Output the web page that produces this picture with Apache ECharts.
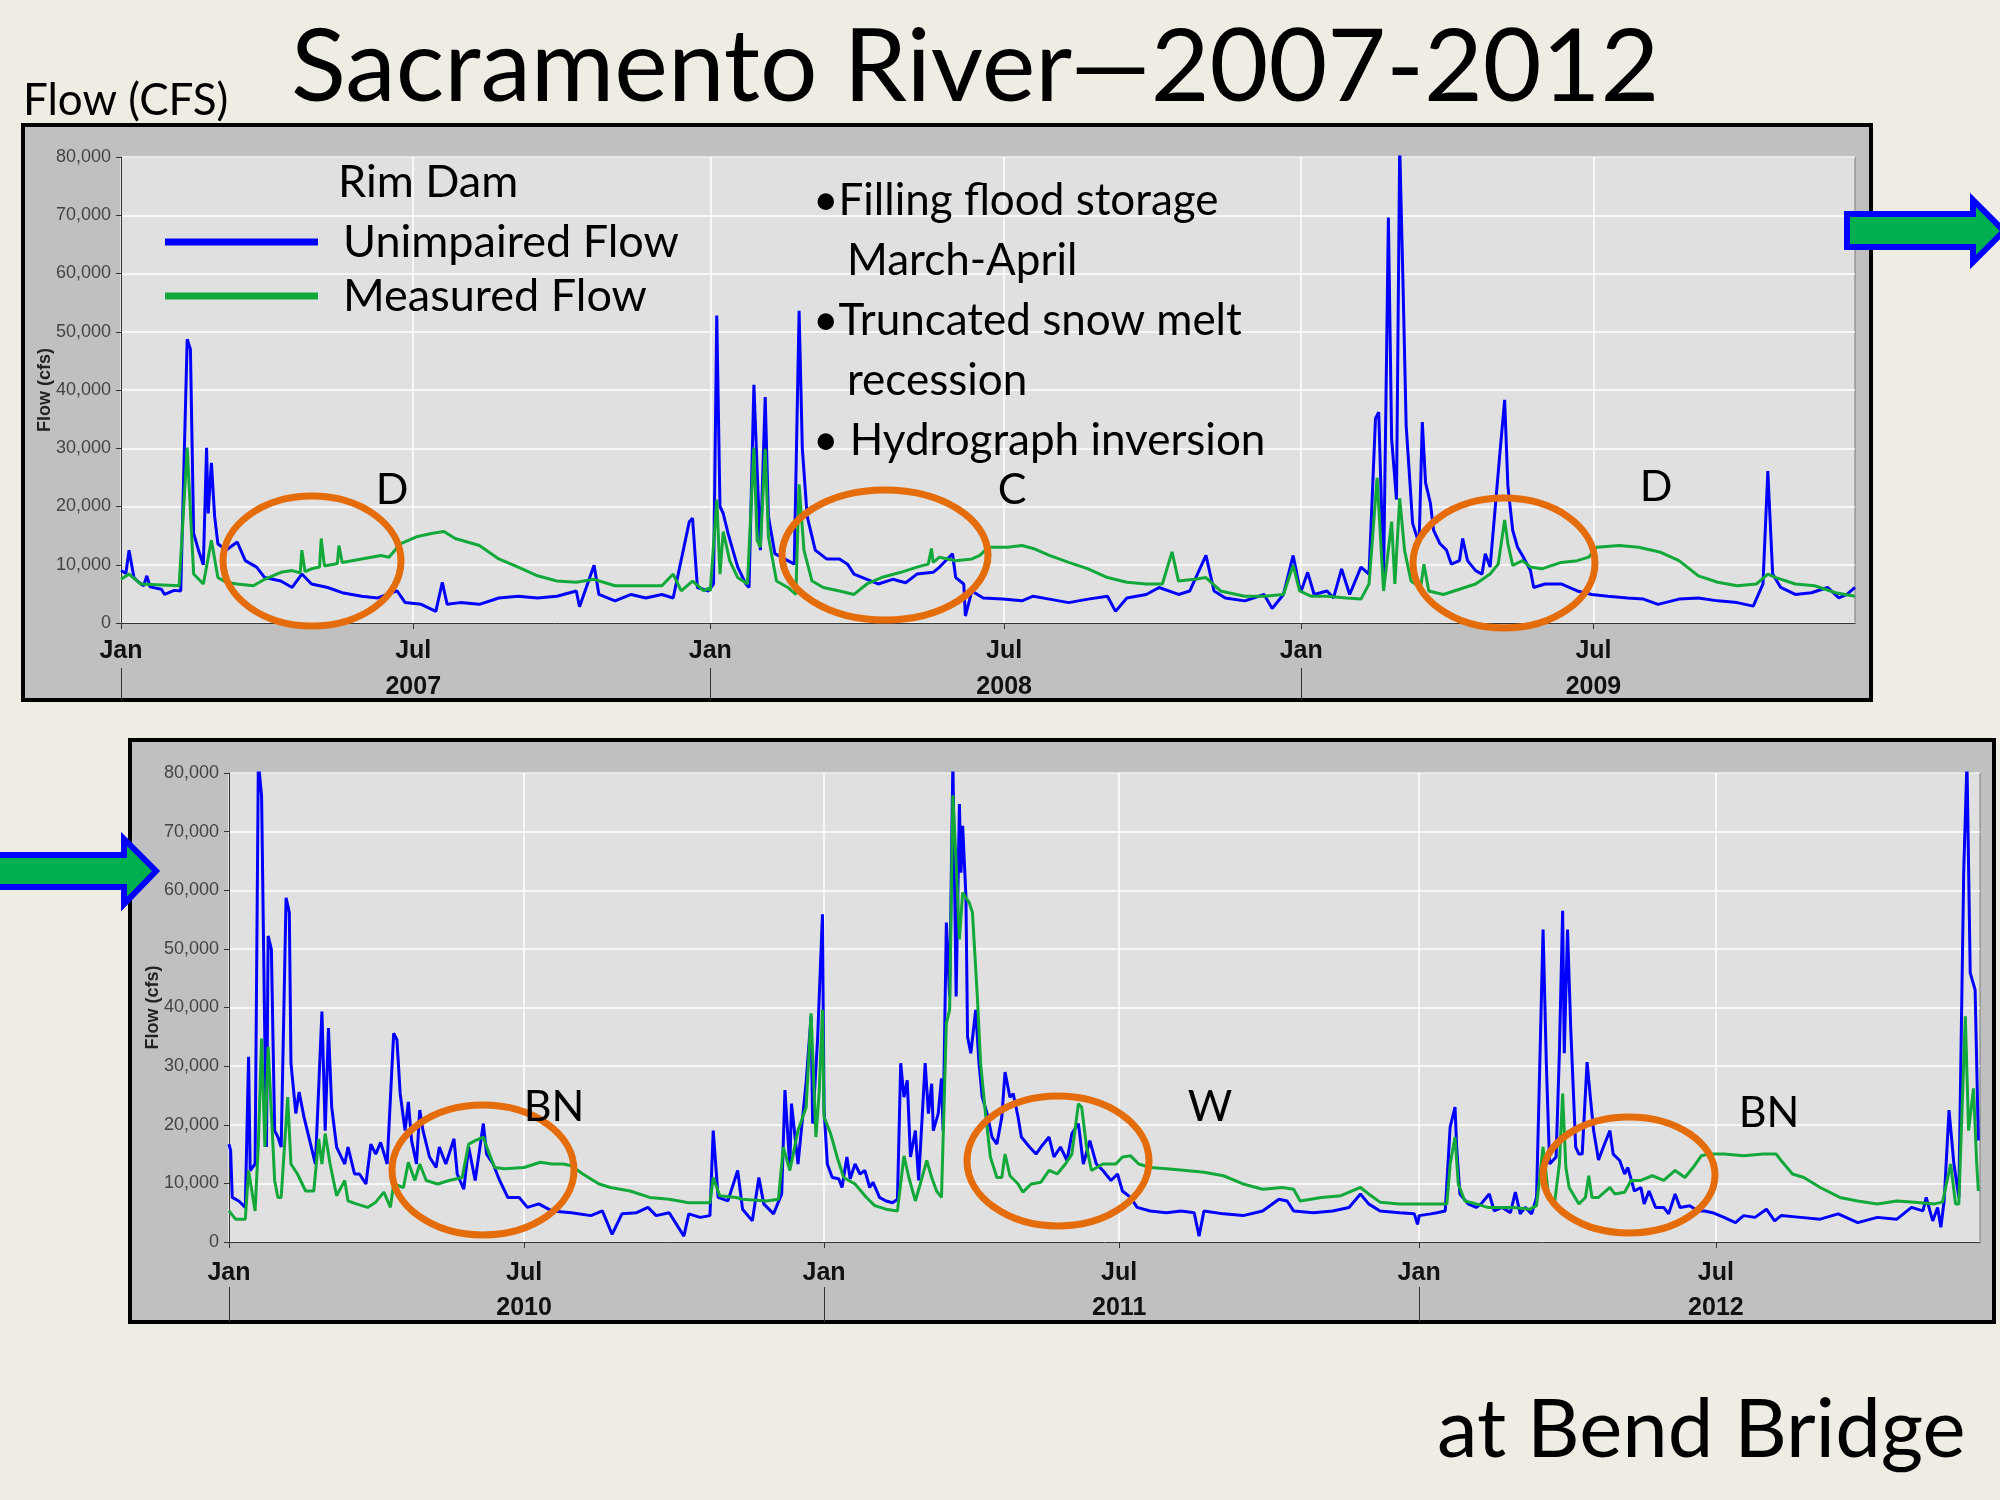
<!DOCTYPE html>
<html lang="en">
<head>
<meta charset="UTF-8">
<title>Sacramento River 2007-2012</title>
<script src="https://cdn.jsdelivr.net/npm/echarts@6/dist/echarts.min.js"></script>
<style>
    html, body { margin: 0; padding: 0; background: #efede3; }
    #main { width: 2000px; height: 1500px; }
</style>
</head>
<body>
<div id="main"></div>
<script type="text/javascript">
    var seriesNames = ['Unimpaired Flow', 'Measured Flow'];
    var topYears = [2007, 2008, 2009];
    var bottomYears = [2010, 2011, 2012];

    // [day of year, flow cfs]
    var unimpaired2007 = [[0,9000],[3,8500],[5,12500],[8,7800],[11,7000],[14,6400],[16,8100],[18,6200],[25,5800],[27,4900],[33,5600],[37,5500],[41,48700],[43,47000],[45,15400],[48,12500],[51,10000],[53,30100],[54,18800],[56,27500],[58,18300],[60,13600],[65,12500],[72,13900],[77,10700],[84,9600],[89,7800],[99,7200],[106,6100],[112,8400],[118,6700],[128,6100],[137,5200],[149,4600],[159,4300],[171,5500],[176,3500],[186,3200],[195,2000],[199,7000],[202,3200],[210,3500],[222,3200],[234,4300],[246,4600],[258,4300],[270,4600],[282,5500],[284,2800],[293,9900],[296,4900],[306,3800],[316,4900],[325,4300],[335,4900],[342,4300],[352,17400],[354,18000],[357,6100],[364,5500]];
    var measured2007 = [[0,7500],[5,8400],[12,6700],[36,6400],[41,30100],[45,8400],[51,6700],[56,14200],[60,7800],[65,7000],[72,6700],[82,6400],[89,7500],[99,8700],[106,9000],[111,8600],[112,12500],[114,8800],[118,9300],[123,9600],[124,14500],[126,9800],[134,10200],[135,13300],[137,10400],[149,11000],[161,11600],[166,11300],[173,13600],[183,14800],[193,15400],[200,15700],[207,14500],[222,13300],[234,11000],[246,9600],[258,8100],[270,7200],[282,7000],[293,7500],[306,6400],[335,6400],[342,8400],[347,5500],[354,7200],[361,5500],[364,6000]];
    var unimpaired2008 = [[0,5500],[2,6700],[4,52800],[6,20000],[8,18800],[11,15400],[17,9600],[22,6700],[24,6100],[27,40900],[29,26400],[31,12500],[34,38800],[36,18300],[40,11900],[44,11300],[48,10700],[52,10100],[55,53600],[57,29900],[60,18300],[65,12500],[72,11000],[80,11000],[85,10100],[89,8400],[97,7500],[104,6700],[113,7500],[121,6900],[128,8400],[138,8700],[142,9600],[150,11900],[152,7800],[157,6700],[158,1200],[162,5500],[169,4300],[181,4100],[193,3800],[200,4600],[210,4100],[222,3500],[234,4100],[246,4600],[251,2000],[258,4300],[270,4900],[278,6100],[290,4900],[297,5500],[307,11600],[312,5500],[319,4300],[331,3800],[343,4900],[348,2500],[355,4900],[361,11600],[365,6100]];
    var measured2008 = [[0,5500],[4,21200],[6,8400],[8,15700],[12,10700],[17,7800],[23,6700],[27,30100],[29,14200],[31,13000],[34,29900],[36,14800],[41,7200],[48,6100],[53,4900],[55,23800],[58,12500],[63,7200],[70,6100],[80,5500],[89,4900],[97,6700],[106,7800],[118,8700],[128,9600],[135,10100],[137,12800],[138,10400],[142,11300],[152,10700],[162,11000],[167,11600],[172,13000],[184,13000],[193,13300],[200,12800],[210,11600],[222,10400],[234,9300],[246,7800],[258,7000],[270,6700],[280,6700],[286,12200],[290,7200],[300,7500],[307,7800],[316,5500],[331,4600],[343,4600],[355,4900],[361,9900],[365,5500]];
    var unimpaired2009 = [[0,5500],[4,8700],[8,4900],[16,5500],[20,4300],[25,9300],[30,4900],[37,9600],[42,8400],[46,35100],[48,36200],[51,7800],[54,69600],[56,31600],[59,21200],[61,82000],[63,58800],[65,33900],[69,17100],[73,13600],[75,34500],[77,24100],[80,20600],[82,15900],[86,13600],[90,12500],[93,10100],[98,10700],[100,14500],[103,10700],[108,9000],[112,8400],[114,11900],[117,9600],[123,29000],[126,38300],[128,23500],[131,15900],[134,13000],[137,11600],[142,9000],[144,6100],[151,6700],[161,6700],[171,5500],[180,4900],[190,4600],[202,4300],[212,4100],[221,3200],[234,4100],[246,4300],[258,3800],[270,3500],[280,2900],[286,6700],[289,26100],[292,8400],[297,6100],[306,4900],[316,5200],[326,6100],[333,4300],[338,4900],[343,6100]];
    var measured2009 = [[0,5200],[6,4600],[16,4600],[28,4300],[37,4100],[42,6700],[47,24900],[51,5500],[56,17400],[58,6700],[61,21400],[64,12500],[68,7200],[74,6100],[76,10100],[79,5500],[88,4900],[98,5800],[108,6700],[117,8400],[122,10100],[126,17700],[128,13600],[131,9900],[137,10700],[142,9600],[149,9300],[161,10400],[171,10700],[178,11300],[183,13000],[197,13300],[209,13000],[222,12200],[234,10700],[246,8100],[258,7000],[270,6400],[282,6700],[289,8400],[294,7800],[306,6700],[318,6400],[331,5200],[343,4600]];
    var unimpaired2010 = [[0,16700],[1,15600],[2,7600],[6,7000],[10,5900],[12,31600],[13,12200],[16,13300],[18,82000],[20,76000],[22,33900],[23,16200],[24,52200],[26,49900],[28,19000],[30,17900],[32,16200],[35,58700],[37,56200],[38,30500],[41,21900],[43,25600],[46,21300],[49,17900],[53,13300],[55,26200],[57,39300],[59,19000],[61,36500],[63,23000],[66,16200],[71,13300],[73,16200],[77,11600],[80,11600],[84,9900],[87,16700],[90,15000],[93,17000],[97,13300],[101,35600],[103,34500],[105,25300],[108,19000],[110,23900],[112,17300],[115,13300],[117,22500],[119,19000],[123,14500],[127,12700],[129,16200],[133,13300],[138,17600],[140,11600],[144,9000],[147,16200],[151,10500],[156,20200],[158,15000],[162,13300],[166,10500],[171,7600],[178,7600],[183,5900],[190,6500],[198,5300],[210,5000],[222,4500],[229,5300],[235,1300],[241,4800],[250,5000],[257,5900],[262,4500],[270,5000],[279,1000],[282,4800],[289,4200],[295,4500],[297,19000],[300,7600],[306,7000],[312,12200],[315,5600],[321,3600],[325,11000],[328,6500],[334,4800],[339,8200],[341,25900],[344,12700],[345,23600],[349,13300],[354,27300],[357,38500],[358,20200],[361,34500],[364,55900]];
    var measured2010 = [[0,5300],[4,3900],[10,3900],[12,12200],[16,5300],[18,16700],[20,34700],[22,16200],[24,33300],[28,10500],[30,7600],[32,7600],[36,24700],[38,13300],[42,11600],[47,8700],[52,8700],[55,17600],[57,13300],[59,18500],[62,13300],[66,7900],[71,10500],[73,7000],[78,6500],[85,5900],[90,6800],[95,8500],[99,5900],[101,9900],[107,9300],[110,13600],[114,10500],[117,13300],[121,10500],[128,9900],[135,10500],[143,11000],[147,16700],[151,17300],[156,17900],[159,15500],[163,12700],[169,12500],[181,12700],[191,13600],[198,13300],[205,13300],[210,13000],[217,11600],[227,9900],[234,9300],[246,8700],[258,7600],[270,7300],[282,6700],[295,6700],[297,11000],[301,7900],[311,7600],[315,7300],[330,7000],[337,7300],[340,16200],[344,12200],[349,19000],[354,23000],[357,39000],[360,17900],[362,25600],[364,39600]];
    var unimpaired2011 = [[0,22500],[2,13300],[5,11000],[9,10800],[11,9300],[14,14500],[16,10800],[19,13300],[22,11600],[25,12200],[28,9300],[30,10200],[34,7600],[38,7000],[42,6700],[45,7300],[47,30500],[49,24700],[51,27600],[53,14500],[56,19000],[58,10500],[62,30500],[64,21900],[66,27000],[67,19000],[70,21900],[72,27900],[73,19000],[75,54500],[77,41900],[79,82000],[81,41900],[83,74700],[84,63000],[85,71000],[87,59000],[88,35000],[90,32200],[93,39600],[95,30500],[97,24700],[100,21900],[103,17900],[106,16700],[109,21300],[111,29000],[114,24700],[116,25300],[119,21300],[121,17900],[126,16200],[130,15000],[133,16200],[138,17900],[141,14500],[145,16200],[149,13900],[152,18500],[156,20200],[159,13300],[163,17300],[167,13300],[171,12200],[176,10500],[180,11600],[183,8700],[188,7600],[192,5900],[200,5300],[210,5000],[219,5300],[227,5000],[230,1000],[233,5300],[245,4800],[257,4500],[269,5300],[279,7300],[284,7000],[288,5300],[300,5000],[312,5300],[322,5900],[329,8200],[334,6500],[341,5300],[353,5000],[362,4800],[364,3000]];
    var measured2011 = [[0,21300],[4,18500],[8,14500],[12,11000],[19,9900],[26,7600],[31,6200],[38,5600],[45,5300],[49,14700],[52,11000],[56,7000],[59,9900],[63,13900],[66,11000],[69,8700],[72,7600],[75,37300],[77,39600],[79,76200],[81,64700],[83,51600],[85,59600],[89,57900],[91,56200],[94,41900],[96,30500],[99,21900],[102,14500],[106,11000],[109,11000],[111,15000],[114,11300],[119,9900],[122,8500],[127,9900],[133,10200],[138,12200],[143,11600],[148,13300],[152,15000],[156,23600],[158,23000],[161,16200],[164,12200],[171,13300],[179,13300],[183,14500],[188,14700],[193,13300],[200,12700],[210,12500],[222,12200],[233,11900],[245,11300],[257,9900],[269,9000],[281,9300],[288,9000],[292,7000],[305,7600],[317,7900],[329,9300],[334,8200],[341,6800],[353,6500],[364,6500]];
    var unimpaired2012 = [[0,4500],[7,4800],[11,5000],[16,5300],[19,19600],[22,23000],[23,16200],[25,8200],[30,6500],[35,5900],[38,6500],[43,8200],[46,5300],[51,5900],[56,5000],[59,8500],[62,4800],[65,5900],[69,4800],[72,7600],[76,53300],[78,30500],[80,13300],[84,14500],[86,32200],[88,56500],[89,32200],[91,53300],[93,36200],[96,16200],[98,15000],[100,15000],[103,30700],[105,24700],[107,19000],[110,14000],[113,16200],[117,19000],[119,15000],[123,13900],[126,11600],[128,12700],[132,8700],[136,9300],[138,6500],[141,8700],[145,5900],[150,5900],[153,4800],[157,8200],[160,5900],[166,6200],[171,5300],[175,5300],[180,5000],[187,4200],[194,3300],[199,4500],[206,4200],[213,5600],[218,3600],[222,4500],[234,4200],[246,3900],[257,4800],[269,3300],[281,4200],[293,3900],[302,5900],[309,5300],[311,7600],[315,3600],[318,5900],[320,2500],[322,7000],[325,22500],[328,13300],[331,7600],[334,63000],[336,82000],[338,45900],[341,43000],[343,17300]];
    var measured2012 = [[0,6500],[17,6500],[19,13300],[22,17900],[24,9900],[28,7000],[35,6500],[42,5900],[58,5900],[68,5600],[72,6200],[76,16200],[79,8700],[83,6500],[86,13300],[88,25300],[90,12700],[92,9300],[98,6500],[102,7600],[104,11300],[106,7600],[110,7600],[117,9300],[120,8200],[126,8500],[130,10500],[136,10500],[143,11300],[150,10500],[157,12200],[163,11000],[168,12700],[173,14700],[178,15000],[187,15000],[199,14700],[211,15000],[219,15000],[222,13900],[229,11600],[236,11000],[246,9300],[258,7600],[269,7000],[281,6500],[293,7000],[304,6800],[316,6500],[321,6800],[326,13300],[329,6500],[331,6500],[335,38500],[337,19000],[340,26200],[342,13300],[343,8700]];

    var BLUE = '#0000ff';
    var GREEN = '#12a83a';
    var FONT = 'Lato';

    // day-of-year rows -> [timestamp, value]
    function toTime(year, rows) {
        var start = new Date(year, 0, 1).getTime();
        return rows.map(function (r) { return [start + r[0] * 86400000, r[1]]; });
    }

    function halfYearTicks(years) {
        var t = [];
        years.forEach(function (y) { t.push(+new Date(y, 0, 1), +new Date(y, 6, 1)); });
        return t;
    }

    // x axes are plain value axes in milliseconds so ticks can sit on Jan 1 / Jul 1
    function monthAxis(grid, years, min, max, margin) {
        var ticks = halfYearTicks(years);
        return {
            type: 'value', gridIndex: grid, min: min, max: max,
            axisLine: {show: true, onZero: false, lineStyle: {color: '#333', width: 1}},
            axisTick: {show: true, customValues: ticks, length: 6, lineStyle: {color: '#333'}},
            axisLabel: {
                customValues: ticks,
                formatter: function (v) { return new Date(v).getMonth() === 0 ? 'Jan' : 'Jul'; },
                fontFamily: 'Liberation Sans', fontWeight: 'bold', fontSize: 25, color: '#111', margin: margin
            },
            splitLine: {show: true, lineStyle: {color: '#ffffff', width: 1.5}}
        };
    }

    function yearAxis(grid, years, min, max, tickLen, margin) {
        return {
            type: 'value', gridIndex: grid, min: min, max: max, position: 'bottom', offset: 45,
            axisLine: {show: false, onZero: false},
            axisTick: {show: true, customValues: years.map(function (y) { return +new Date(y, 0, 1); }),
                length: tickLen, lineStyle: {color: '#333'}},
            axisLabel: {
                customValues: years.map(function (y) { return +new Date(y, 6, 1); }),
                formatter: function (v) { return String(new Date(v).getFullYear()); },
                fontFamily: 'Liberation Sans', fontWeight: 'bold', fontSize: 25, color: '#111', margin: margin
            },
            splitLine: {show: false}
        };
    }

    function flowAxis(grid) {
        return {
            type: 'value', gridIndex: grid, min: 0, max: 80000, interval: 10000,
            name: 'Flow (cfs)', nameLocation: 'middle', nameGap: 67, nameMoveOverlap: false,
            nameTextStyle: {fontFamily: 'Liberation Sans', fontWeight: 'bold', fontSize: 18, color: '#222'},
            axisLine: {show: true, onZero: false, lineStyle: {color: '#333'}},
            axisTick: {show: true, length: 5, lineStyle: {color: '#333'}},
            axisLabel: {
                formatter: function (v) { return echarts.format.addCommas(v); },
                fontFamily: 'Liberation Sans Narrow, Liberation Sans', fontSize: 18, color: '#444', margin: 10
            },
            splitLine: {show: true, lineStyle: {color: '#ffffff', width: 1.5}}
        };
    }

    function flowSeries(name, color, axis, rows, z) {
        return {
            name: name, type: 'line', xAxisIndex: axis, yAxisIndex: axis < 2 ? 0 : 1,
            data: rows, showSymbol: false, symbol: 'none', z: z,
            lineStyle: {width: 3, color: color}, itemStyle: {color: color}
        };
    }

    function txt(text, x, y, size, extra) {
        var style = {text: text, x: x, y: y, fill: '#000', font: size + 'px ' + FONT,
            align: 'left', verticalAlign: 'middle'};
        if (extra) { for (var k in extra) { style[k] = extra[k]; } }
        return {type: 'text', z: 40, style: style};
    }

    function ring(cx, cy, rx, ry) {
        return {type: 'ellipse', z: 30, shape: {cx: cx, cy: cy, rx: rx, ry: ry},
            style: {fill: 'none', stroke: '#e46c0a', lineWidth: 7}};
    }

    var uTop = [].concat(toTime(2007, unimpaired2007), toTime(2008, unimpaired2008), toTime(2009, unimpaired2009));
    var mTop = [].concat(toTime(2007, measured2007), toTime(2008, measured2008), toTime(2009, measured2009));
    var uBot = [].concat(toTime(2010, unimpaired2010), toTime(2011, unimpaired2011), toTime(2012, unimpaired2012));
    var mBot = [].concat(toTime(2010, measured2010), toTime(2011, measured2011), toTime(2012, measured2012));

    var topMin = +new Date(2007, 0, 1), topMax = +new Date(2009, 11, 10);
    var botMin = +new Date(2010, 0, 1), botMax = +new Date(2012, 11, 10);

    var myChart = echarts.init(document.getElementById('main'), null, {renderer: 'canvas'});
    myChart.setOption({
        backgroundColor: '#efede3',
        animation: false,
        grid: [
            {left: 121, top: 157, width: 1734, height: 466, show: true, backgroundColor: '#e0e0e0',
                borderColor: '#7a7a7a', borderWidth: 1},
            {left: 229, top: 773, width: 1751, height: 469, show: true, backgroundColor: '#e0e0e0',
                borderColor: '#7a7a7a', borderWidth: 1}
        ],
        xAxis: [
            monthAxis(0, topYears, topMin, topMax, 16),
            yearAxis(0, topYears, topMin, topMax, 32, 7),
            monthAxis(1, bottomYears, botMin, botMax, 19),
            yearAxis(1, bottomYears, botMin, botMax, 35, 9)
        ],
        yAxis: [flowAxis(0), flowAxis(1)],
        legend: {
            data: seriesNames, orient: 'vertical', left: 160, top: 212,
            itemWidth: 153, itemHeight: 7, itemGap: 4, icon: 'rect', selectedMode: false,
            textStyle: {fontFamily: FONT, fontSize: 45, color: '#000', lineHeight: 50, padding: [0, 0, 0, 20]}
        },
        series: [
            flowSeries(seriesNames[0], BLUE, 0, uTop, 2),
            flowSeries(seriesNames[1], GREEN, 0, mTop, 3),
            flowSeries(seriesNames[0], BLUE, 2, uBot, 2),
            flowSeries(seriesNames[1], GREEN, 2, mBot, 3)
        ],
        graphic: {elements: [
            // chart frames
            {type: 'rect', z: -10, shape: {x: 23, y: 125, width: 1848, height: 575},
                style: {fill: '#c0c0c0', stroke: '#000', lineWidth: 4}},
            {type: 'rect', z: -10, shape: {x: 130, y: 740, width: 1864, height: 582},
                style: {fill: '#c0c0c0', stroke: '#000', lineWidth: 4}},
            // headings
            txt('Sacramento River\u20142007-2012', 291, 68, 101.5),
            txt('Flow (CFS)', 23, 101, 44),
            txt('at Bend Bridge', 1437, 1431, 81.5),
            txt('Rim Dam', 338, 182, 45),
            // notes
            txt('\u2022Filling flood storage', 813, 201, 44),
            txt('March-April', 847, 261, 44),
            txt('\u2022Truncated snow melt', 813, 321, 44),
            txt('recession', 847, 381, 44),
            txt('\u2022 Hydrograph inversion', 813, 441, 44),
            // water year types
            txt('D', 392, 490, 43, {align: 'center'}),
            txt('C', 1012, 490, 43, {align: 'center'}),
            txt('D', 1656, 487, 43, {align: 'center'}),
            txt('BN', 554, 1107, 43, {align: 'center'}),
            txt('W', 1210, 1107, 43, {align: 'center'}),
            txt('BN', 1769, 1113, 43, {align: 'center'}),
            // highlighted periods
            ring(312, 561, 89, 65),
            ring(885, 555, 103, 65),
            ring(1504, 563, 91, 65),
            ring(483, 1170, 91, 65),
            ring(1058, 1161, 91, 65),
            ring(1629, 1175, 86, 58),
            // continuation arrows
            {type: 'polygon', z: 35, shape: {points: [[1847, 214], [1973, 214], [1973, 200], [2004, 231], [1973, 262], [1973, 247], [1847, 247]]},
                style: {fill: '#00b050', stroke: '#0000ff', lineWidth: 6}},
            {type: 'polygon', z: 35, shape: {points: [[-6, 855], [124, 855], [124, 839], [156, 871], [124, 904], [124, 887], [-6, 887]]},
                style: {fill: '#00b050', stroke: '#0000ff', lineWidth: 6}}
        ]}
    });
</script>
</body>
</html>
